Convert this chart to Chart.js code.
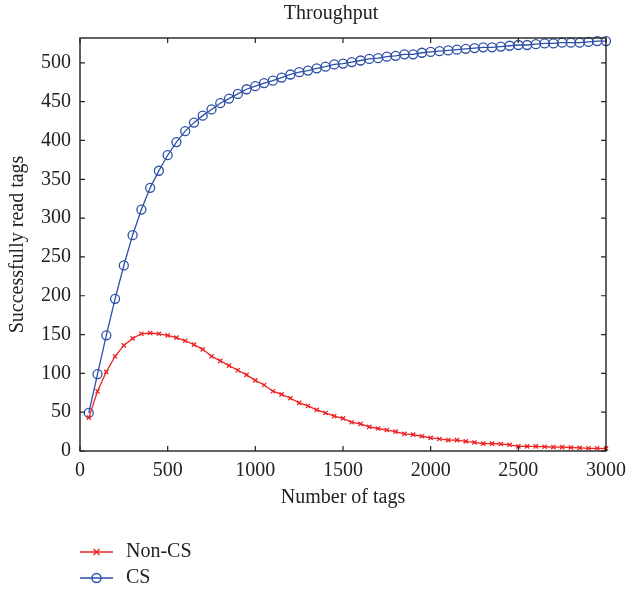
<!DOCTYPE html>
<html>
<head>
<meta charset="utf-8">
<script src="https://cdn.jsdelivr.net/npm/chart.js@4"></script>
<style>
    html, body { margin: 0; padding: 0; background: #fff; }
    #wrap { width: 627px; height: 592px; }
</style>
</head>
<body>
<div id="wrap"><canvas id="myChart" width="627" height="592"></canvas></div>
<script>
const tagCounts = [50, 100, 150, 200, 250, 300, 350, 400, 450, 500, 550, 600, 650, 700, 750, 800, 850, 900, 950, 1000,
    1050, 1100, 1150, 1200, 1250, 1300, 1350, 1400, 1450, 1500, 1550, 1600, 1650, 1700, 1750, 1800, 1850, 1900, 1950, 2000,
    2050, 2100, 2150, 2200, 2250, 2300, 2350, 2400, 2450, 2500, 2550, 2600, 2650, 2700, 2750, 2800, 2850, 2900, 2950, 3000];

const nonCS = [43, 77, 102, 122, 136, 145, 151, 152, 151, 149, 146, 142, 137, 131, 122, 116, 110, 104, 98, 91,
    85, 77, 73, 68, 62, 58, 53, 49, 45, 42, 37, 35, 31, 29, 27, 25, 22, 21, 19, 17,
    15.5, 14, 14, 12.5, 11, 9.5, 9.5, 9, 8, 6, 6, 6, 5.5, 5, 5, 4.5, 4, 3.5, 3.5, 3];

const cs = [49, 99, 149, 196, 239, 278, 311, 339, 361, 381, 398, 412, 423, 432, 440, 448, 454, 460, 466, 470,
    474, 477, 481, 485, 488, 490, 493, 495, 498, 499, 501, 503, 505, 506, 508, 509, 511, 511, 513, 514,
    515, 516, 517, 518, 519, 520, 520, 521, 522, 523, 523, 524, 525, 525, 526, 526, 526, 527, 528, 528];

const xTicks = [0, 500, 1000, 1500, 2000, 2500, 3000];
const yTicks = [0, 50, 100, 150, 200, 250, 300, 350, 400, 450, 500];

const FONT = "'Liberation Serif', 'Times New Roman', serif";
const textColor = '#222';
const red = '#ee2222';
const blue = '#2d4fa6';

// caixa, ticks para dentro, título e legenda
const boxPlugin = {
    id: 'boxPlugin',
    afterDraw(chart) {
        const ctx = chart.ctx;
        const a = chart.chartArea;
        const xs = chart.scales.x;
        const ys = chart.scales.y;
        ctx.save();
        ctx.strokeStyle = '#222';
        ctx.lineWidth = 1.4;
        ctx.strokeRect(a.left, a.top, a.right - a.left, a.bottom - a.top);

        ctx.lineWidth = 1.2;
        ctx.beginPath();
        xTicks.forEach(v => {
            const px = xs.getPixelForValue(v);
            ctx.moveTo(px, a.bottom); ctx.lineTo(px, a.bottom - 5);
            ctx.moveTo(px, a.top); ctx.lineTo(px, a.top + 5);
        });
        yTicks.forEach(v => {
            const py = ys.getPixelForValue(v);
            ctx.moveTo(a.left, py); ctx.lineTo(a.left + 5, py);
            ctx.moveTo(a.right, py); ctx.lineTo(a.right - 5, py);
        });
        ctx.stroke();

        ctx.fillStyle = textColor;
        ctx.font = '20px ' + FONT;
        ctx.textAlign = 'center';
        ctx.textBaseline = 'middle';
        ctx.fillText('Throughput', 331, 14);

        // legenda
        const lx = a.left;
        chart.data.datasets.forEach((ds, i) => {
            const ly = 552 + i * 26;
            ctx.strokeStyle = ds.borderColor;
            ctx.lineWidth = 1.4;
            ctx.beginPath();
            ctx.moveTo(lx, ly); ctx.lineTo(lx + 33, ly);
            ctx.stroke();
            const cx = lx + 16.5;
            ctx.beginPath();
            if (ds.pointStyle === 'crossRot') {
                const r = ds.pointRadius;
                ctx.moveTo(cx - r, ly - r); ctx.lineTo(cx + r, ly + r);
                ctx.moveTo(cx - r, ly + r); ctx.lineTo(cx + r, ly - r);
            } else {
                ctx.arc(cx, ly, ds.pointRadius, 0, Math.PI * 2);
            }
            ctx.stroke();
            ctx.fillStyle = textColor;
            ctx.textAlign = 'left';
            ctx.fillText(ds.label, lx + 46, ly);
        });
        ctx.restore();
    }
};

new Chart(document.getElementById('myChart'), {
    type: 'line',
    data: {
        datasets: [{
            label: 'Non-CS',
            data: tagCounts.map((x, i) => ({ x: x, y: nonCS[i] })),
            borderColor: red,
            backgroundColor: red,
            borderWidth: 1.3,
            pointStyle: 'crossRot',
            pointRadius: 3,
            pointBorderWidth: 1.3,
            tension: 0,
            clip: false
        }, {
            label: 'CS',
            data: tagCounts.map((x, i) => ({ x: x, y: cs[i] })),
            borderColor: blue,
            backgroundColor: 'rgba(0,0,0,0)',
            borderWidth: 1.3,
            pointStyle: 'circle',
            pointRadius: 4.5,
            pointBorderWidth: 1.3,
            tension: 0,
            clip: false
        }]
    },
    options: {
        responsive: false,
        animation: false,
        layout: { padding: { top: 38, right: 21, bottom: 81, left: 0 } },
        plugins: {
            legend: { display: false },
            title: { display: false },
            tooltip: { enabled: false }
        },
        scales: {
            x: {
                type: 'linear',
                min: 0,
                max: 3000,
                afterBuildTicks: s => { s.ticks = xTicks.map(v => ({ value: v })); },
                afterFit: s => { s.height = 60; s.paddingLeft = 0; s.paddingRight = 0; },
                grid: { display: false, drawTicks: false },
                border: { display: false },
                ticks: { color: textColor, font: { family: FONT, size: 20 }, padding: 8, maxRotation: 0, callback: v => String(v) },
                title: { display: true, text: 'Number of tags', color: textColor, font: { family: FONT, size: 20 }, padding: { top: 0, bottom: 1 } }
            },
            y: {
                type: 'linear',
                min: 0,
                max: 532,
                afterBuildTicks: s => { s.ticks = yTicks.map(v => ({ value: v })); },
                afterFit: s => { s.width = 80; s.paddingTop = 0; s.paddingBottom = 0; },
                grid: { display: false, drawTicks: false },
                border: { display: false },
                ticks: { color: textColor, font: { family: FONT, size: 20 }, padding: 9, callback: v => String(v) },
                title: { display: true, text: 'Successfully read tags', color: textColor, font: { family: FONT, size: 20 }, padding: { top: 6, bottom: 0 } }
            }
        }
    },
    plugins: [boxPlugin]
});
</script>
</body>
</html>
